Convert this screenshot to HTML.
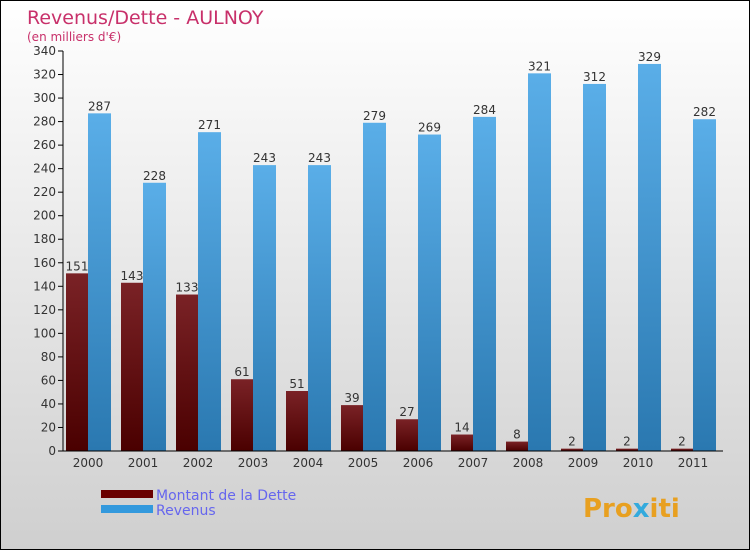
<!DOCTYPE html>
<html><head><meta charset="utf-8"><style>
body{margin:0;}
#c{width:750px;height:550px;position:relative;overflow:hidden;border:1px solid #000;box-sizing:border-box;background:linear-gradient(#ffffff,#cfcfcf);font-family:"DejaVu Sans","Liberation Sans",sans-serif;}
</style></head><body>
<div id="c">
<svg id="s" width="750" height="550" style="position:absolute;left:0;top:0">
<defs>
<linearGradient id="gd" x1="0" y1="0" x2="0" y2="1"><stop offset="0" stop-color="#7a2226"/><stop offset="1" stop-color="#4a0000"/></linearGradient>
<linearGradient id="gr" x1="0" y1="0" x2="0" y2="1"><stop offset="0" stop-color="#5aaee8"/><stop offset="1" stop-color="#2a78b0"/></linearGradient>
</defs>
<text x="26" y="23" font-size="19" fill="#c8306a">Revenus/Dette - AULNOY</text>
<text x="26" y="40" font-size="12" fill="#c8306a">(en milliers d'€)</text>
<g id="g"></g>
<rect x="100" y="489" width="52" height="8" fill="#6a0000"/>
<rect x="100" y="504" width="52" height="8" fill="#3399dd"/>
<text x="155" y="499" font-size="14" fill="#6666ee">Montant de la Dette</text>
<text x="155" y="514" font-size="14" fill="#6666ee">Revenus</text>
<text x="582" y="516" font-size="26" font-weight="bold" fill="#e8a020">Pro<tspan fill="#33aadd">x</tspan>iti</text>
</svg>
</div>
<script>
const years=["2000","2001","2002","2003","2004","2005","2006","2007","2008","2009","2010","2011"];
const dette=[151,143,133,61,51,39,27,14,8,2,2,2];
const revenus=[287,228,271,243,243,279,269,284,321,312,329,282];
const ticks=[0,20,40,60,80,100,120,140,160,180,200,220,240,260,280,300,320,340];
const NS="http://www.w3.org/2000/svg";
const g=document.getElementById('g');
const y0=450,ymax=340,h=400,x0=62,gw=55;
const Y=v=>y0-v/ymax*h;
const X=i=>x0+3+i*gw;
function mk(t,a){const e=document.createElementNS(NS,t);for(const k in a)e.setAttribute(k,a[k]);g.appendChild(e);return e;}
ticks.forEach(t=>{
 const l=mk('line',{x1:57,x2:62,y1:Y(t),y2:Y(t),stroke:'#000'});
 
 
 const tx=mk('text',{x:55,y:Y(t)+4,'text-anchor':'end','font-size':12,fill:'#333'});tx.textContent=t;
 
 
});
years.forEach((yr,i)=>{
 const bx=X(i);
 const b1=mk('rect',{x:bx,y:Y(dette[i]),width:22,height:y0-Y(dette[i]),fill:'url(#gd)'});
 
 
 const b2=mk('rect',{x:bx+22,y:Y(revenus[i]),width:23,height:y0-Y(revenus[i]),fill:'url(#gr)'});
 
 
 const l1=mk('text',{x:bx+11,y:Y(dette[i])-3,'text-anchor':'middle','font-size':12,fill:'#333'});l1.textContent=dette[i];
 
 
 const l2=mk('text',{x:bx+33.5,y:Y(revenus[i])-3,'text-anchor':'middle','font-size':12,fill:'#333'});l2.textContent=revenus[i];
 
 
 const xl=mk('text',{x:bx+22,y:466,'text-anchor':'middle','font-size':12,fill:'#333'});xl.textContent=yr;
 
 
});
const ax=mk('line',{x1:62,x2:62,y1:50,y2:450,stroke:'#000'});


const bx2=mk('line',{x1:62,x2:722,y1:450,y2:450,stroke:'#000'});


</script>
</body></html>
